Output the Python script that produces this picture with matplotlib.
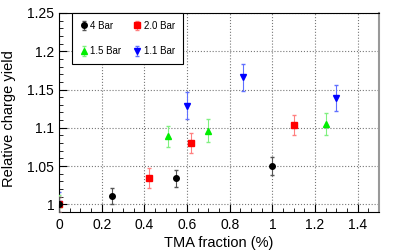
import matplotlib
matplotlib.use("Agg")
import matplotlib.pyplot as plt
from matplotlib.ticker import MultipleLocator

plt.rcParams['font.family'] = ['Liberation Sans', 'DejaVu Sans']

# data
x_4bar = [0.0, 0.25, 0.55, 1.0]
y_4bar = [1.0, 1.011, 1.034, 1.050]
e_4bar = [0.010, 0.011, 0.011, 0.012]

x_20bar = [0.0, 0.42, 0.62, 1.10]
y_20bar = [1.0, 1.035, 1.080, 1.104]
e_20bar = [0.010, 0.013, 0.013, 0.013]

x_15bar = [0.0, 0.51, 0.70, 1.25]
y_15bar = [1.0, 1.089, 1.096, 1.105]
e_15bar = [0.012, 0.014, 0.015, 0.015]

x_11bar = [0.0, 0.60, 0.86, 1.30]
y_11bar = [1.0, 1.129, 1.166, 1.139]
e_11bar = [0.016, 0.018, 0.018, 0.017]

fig = plt.figure(figsize=(3.99, 2.5), dpi=100)
ax = fig.add_axes([0.148, 0.152, 0.802, 0.796])

h4 = ax.errorbar(x_4bar, y_4bar, yerr=e_4bar, fmt='o', color='black', ms=4,
                 elinewidth=0.8, capsize=1.2, ecolor='#555555', label='4 Bar', zorder=5)
h20 = ax.errorbar(x_20bar, y_20bar, yerr=e_20bar, fmt='s', color='red', ms=4,
                  elinewidth=0.8, capsize=1.2, ecolor='#ff8080', label='2.0 Bar', zorder=4)
h15 = ax.errorbar(x_15bar, y_15bar, yerr=e_15bar, fmt='^', color='#00ee00', ms=4,
                  elinewidth=0.8, capsize=1.2, ecolor='#80f080', label='1.5 Bar', zorder=3)
h11 = ax.errorbar(x_11bar, y_11bar, yerr=e_11bar, fmt='v', color='blue', ms=4,
                  elinewidth=0.8, capsize=1.2, ecolor='#6070ff', label='1.1 Bar', zorder=2)

ax.set_xlim(0, 1.5)
ax.set_ylim(0.99, 1.25)
ax.xaxis.set_minor_locator(MultipleLocator(0.05))
ax.yaxis.set_minor_locator(MultipleLocator(0.01))
ax.set_yticks([1.0, 1.05, 1.1, 1.15, 1.2, 1.25])
ax.set_yticklabels(['1', '1.05', '1.1', '1.15', '1.2', '1.25'])
ax.set_xticks([0, 0.2, 0.4, 0.6, 0.8, 1.0, 1.2, 1.4])
ax.set_xticklabels(['0', '0.2', '0.4', '0.6', '0.8', '1', '1.2', '1.4'])

ax.tick_params(which='both', direction='in', labelsize=10, top=False, right=False)
ax.tick_params(which='major', length=6, width=0.8)
ax.tick_params(which='minor', length=3, width=0.6)
ax.tick_params(axis='x', pad=4)
ax.grid(True, which='major', linestyle=':', color='#777777', linewidth=0.8)

ax.spines['right'].set_color('#999999')
ax.spines['right'].set_linewidth(1.5)

ax.set_xlabel('TMA fraction (%)', fontsize=10.5, labelpad=3)
ax.set_ylabel('Relative charge yield', fontsize=10.5)
ax.yaxis.set_label_coords(-0.133, 0.47)

# column-wise fill: 4 Bar / 1.5 Bar in first column, 2.0 Bar / 1.1 Bar in second
leg = ax.legend([h4, h15, h20, h11], ['4 Bar', '1.5 Bar', '2.0 Bar', '1.1 Bar'],
                loc='upper left', ncol=2, fontsize=7, frameon=True, fancybox=False,
                edgecolor='black', framealpha=1, borderpad=0.8, labelspacing=1.6,
                columnspacing=1.2, handletextpad=0.3, handlelength=0.8,
                borderaxespad=0, bbox_to_anchor=(0.04, 1.0))
leg.get_frame().set_linewidth(0.8)

fig.savefig('out.png', dpi=100)
